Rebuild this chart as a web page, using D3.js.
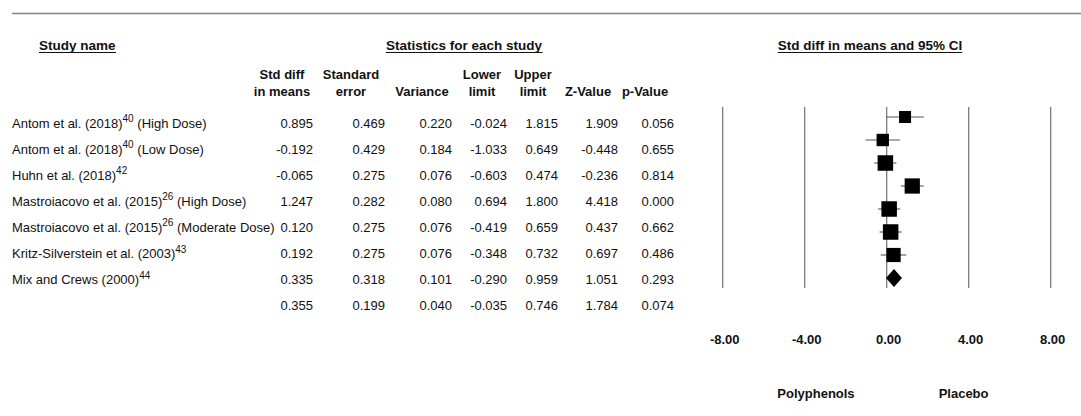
<!DOCTYPE html>
<html>
<head>
<meta charset="utf-8">
<script src="https://cdn.jsdelivr.net/npm/d3@7"></script>
<style>
  html, body { margin: 0; padding: 0; background: #fff; }
  svg { display: block; font-family: "Liberation Sans", Arial, sans-serif; }
</style>
</head>
<body>
<svg id="chart" width="1081" height="416"></svg>
<script>
// ---- Study data ----
const studyNames = [
  "Antom et al. (2018)",
  "Antom et al. (2018)",
  "Huhn et al. (2018)",
  "Mastroiacovo et al. (2015)",
  "Mastroiacovo et al. (2015)",
  "Kritz-Silverstein et al. (2003)",
  "Mix and Crews (2000)"
];
const studyRefs = ["40", "40", "42", "26", "26", "43", "44"];
const studyDoses = ["(High Dose)", "(Low Dose)", "", "(High Dose)", "(Moderate Dose)", "", ""];

const stdDiff  = [0.895, -0.192, -0.065, 1.247, 0.120, 0.192, 0.335];
const stdErr   = [0.469, 0.429, 0.275, 0.282, 0.275, 0.275, 0.318];
const variance = [0.220, 0.184, 0.076, 0.080, 0.076, 0.076, 0.101];
const lower    = [-0.024, -1.033, -0.603, 0.694, -0.419, -0.348, -0.290];
const upper    = [1.815, 0.649, 0.474, 1.800, 0.659, 0.732, 0.959];
const zValue   = [1.909, -0.448, -0.236, 4.418, 0.437, 0.697, 1.051];
const pValue   = [0.056, 0.655, 0.814, 0.000, 0.662, 0.486, 0.293];

// Pooled (summary) estimate: std diff, SE, variance, lower, upper, Z, p
const summary = [0.355, 0.199, 0.040, -0.035, 0.746, 1.784, 0.074];

// Axis
const axisTicks = [-8, -4, 0, 4, 8];
const favoursLabels = ["Polyphenols", "Placebo"];

// Column headers (two lines each)
const colHeaders = [
  ["Std diff", "in means"],
  ["Standard", "error"],
  ["", "Variance"],
  ["Lower", "limit"],
  ["Upper", "limit"],
  ["", "Z-Value"],
  ["", "p-Value"]
];

// ---- Drawing ----
const svg = d3.select("#chart");
const locale = d3.formatLocale({decimal: ".", thousands: ",", grouping: [3], currency: ["", ""], minus: "-"});
const fmt = locale.format(".3f");
const tickFmt = locale.format(".2f");

const nRows = studyNames.length;
const tableY = d3.scaleLinear().domain([0, nRows]).range([127.5, 310.2]);
const plotY = d3.scaleLinear().domain([0, nRows]).range([117, 278]);
const x = d3.scaleLinear().domain([-8, 8]).range([722.7, 1050.7]);

const colRight = [313, 385, 452, 507, 558, 618, 674];
const colCenter = [282, 351, 422, 482, 533, 588, 645];

// Top rule
svg.append("line")
  .attr("x1", 12).attr("x2", 1081).attr("y1", 13.5).attr("y2", 13.5)
  .attr("stroke", "#858585").attr("stroke-width", 1.6);

// Underlined section titles
function underlinedTitle(text, xPos, anchor) {
  const t = svg.append("text")
    .attr("x", xPos).attr("y", 50)
    .attr("text-anchor", anchor)
    .attr("font-size", 13.5).attr("font-weight", "bold")
    .attr("fill", "#111")
    .text(text);
  const bb = t.node().getBBox();
  svg.append("line")
    .attr("x1", bb.x).attr("x2", bb.x + bb.width)
    .attr("y1", 52.5).attr("y2", 52.5)
    .attr("stroke", "#111").attr("stroke-width", 1.2);
}
underlinedTitle("Study name", 39, "start");
underlinedTitle("Statistics for each study", 464, "middle");
underlinedTitle("Std diff in means and 95% CI", 870, "middle");

// Column headers
colHeaders.forEach((lines, i) => {
  lines.forEach((ln, j) => {
    if (!ln) return;
    svg.append("text")
      .attr("x", colCenter[i]).attr("y", j === 0 ? 79 : 96)
      .attr("text-anchor", "middle")
      .attr("font-size", 13).attr("font-weight", "bold")
      .attr("fill", "#111")
      .text(ln);
  });
});

// Study name labels with superscript reference numbers
studyNames.forEach((name, i) => {
  const t = svg.append("text")
    .attr("x", 12).attr("y", tableY(i))
    .attr("font-size", 13).attr("fill", "#111");
  t.append("tspan").text(name);
  t.append("tspan").attr("font-size", 10).attr("dy", -5.5).text(studyRefs[i]);
  if (studyDoses[i]) {
    t.append("tspan").attr("dy", 5.5).text(" " + studyDoses[i]);
  }
});

// Statistic columns
const columns = [stdDiff, stdErr, variance, lower, upper, zValue, pValue];
columns.forEach((vals, c) => {
  svg.append("g").selectAll("text")
    .data(vals.concat([summary[c]]))
    .join("text")
    .attr("x", colRight[c])
    .attr("y", (d, i) => tableY(i))
    .attr("text-anchor", "end")
    .attr("font-size", 13).attr("fill", "#111")
    .text(d => fmt(d));
});

// Forest plot reference lines
svg.append("g").selectAll("line")
  .data(axisTicks)
  .join("line")
  .attr("x1", d => x(d)).attr("x2", d => x(d))
  .attr("y1", 107).attr("y2", 288)
  .attr("stroke", "#707070").attr("stroke-width", 1.2);

// Confidence intervals
svg.append("g").selectAll("line")
  .data(d3.range(nRows))
  .join("line")
  .attr("x1", i => x(lower[i])).attr("x2", i => x(upper[i]))
  .attr("y1", i => plotY(i)).attr("y2", i => plotY(i))
  .attr("stroke", "#555").attr("stroke-width", 1.1);

// Point estimates, sized by inverse-variance weight
const weights = variance.map(v => 1 / v);
const size = d3.scaleLinear().domain(d3.extent(weights)).range([12, 15.5]);
svg.append("g").selectAll("rect")
  .data(d3.range(nRows))
  .join("rect")
  .attr("x", i => x(stdDiff[i]) - size(weights[i]) / 2)
  .attr("y", i => plotY(i) - size(weights[i]) / 2)
  .attr("width", i => size(weights[i]))
  .attr("height", i => size(weights[i]))
  .attr("fill", "#000");

// Summary diamond spanning the pooled CI
const dy = plotY(nRows);
const dh = 9;
svg.append("path")
  .attr("d", d3.line()([
    [x(summary[3]), dy],
    [x(summary[0]), dy - dh],
    [x(summary[4]), dy],
    [x(summary[0]), dy + dh]
  ]) + "Z")
  .attr("fill", "#000");

// Axis tick labels
svg.append("g").selectAll("text")
  .data(axisTicks)
  .join("text")
  .attr("x", d => x(d) + 2).attr("y", 344)
  .attr("text-anchor", "middle")
  .attr("font-size", 13).attr("font-weight", "bold")
  .attr("fill", "#111")
  .text(d => tickFmt(d));

// Favours labels
svg.append("g").selectAll("text")
  .data(favoursLabels)
  .join("text")
  .attr("x", (d, i) => i === 0 ? x(-3.45) : x(3.75))
  .attr("y", 398)
  .attr("text-anchor", "middle")
  .attr("font-size", 13).attr("font-weight", "bold")
  .attr("fill", "#111")
  .text(d => d);
</script>
</body>
</html>
